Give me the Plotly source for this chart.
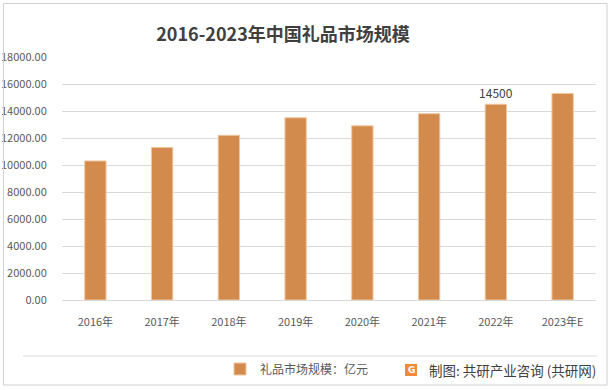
import plotly.graph_objects as go

categories = ["2016年", "2017年", "2018年", "2019年", "2020年", "2021年", "2022年", "2023年E"]
values = [10300, 11300, 12200, 13500, 12900, 13800, 14500, 15300]
label_text = ["", "", "", "", "", "", "14500", ""]
tick_vals = [0, 2000, 4000, 6000, 8000, 10000, 12000, 14000, 16000, 18000]
tick_text = ["%.2f" % v for v in tick_vals]

W, H = 613, 390
L, R, T, B = 62, 17, 57, 90
PW, PH = W - L - R, H - T - B

def px(x):
    return (x - L) / PW

def py(y):
    return (H - B - y) / PH

FONT = "Noto Sans CJK SC"
GRAY = "#595959"

fig = go.Figure()
fig.add_trace(go.Bar(
    x=categories, y=values, name="礼品市场规模：亿元",
    marker=dict(color="#D38B4D", line=dict(color="#F2C79F", width=1)),
    text=label_text, textposition="outside", cliponaxis=False, constraintext="none",
    textfont=dict(family=FONT, size=12, color="#404040"),
))

fig.update_layout(
    width=W, height=H,
    margin=dict(l=L, r=R, t=T, b=B, autoexpand=False),
    paper_bgcolor="white", plot_bgcolor="white",
    bargap=0.68,
    title=dict(text="<b>2016-2023年中国礼品市场规模</b>", x=px(283), xref="paper", xanchor="center",
               y=1 - 35 / H, yanchor="middle",
               font=dict(family=FONT, size=18, color="#404040")),
    font=dict(family=FONT, color=GRAY),
    showlegend=True,
    legend=dict(orientation="h", x=px(220), xanchor="left", y=py(369), yanchor="middle",
                font=dict(family=FONT, size=12, color=GRAY), bgcolor="rgba(0,0,0,0)",
                itemwidth=30),
    xaxis=dict(showgrid=False, showline=False, zeroline=False,
               ticks="outside", ticklen=12, tickcolor="rgba(0,0,0,0)",
               tickfont=dict(family=FONT, size=11, color=GRAY)),
    yaxis=dict(range=[0, 18000], tickvals=tick_vals, ticktext=tick_text,
               showgrid=True, gridcolor="#D9D9D9", gridwidth=1,
               zeroline=True, zerolinecolor="#D9D9D9", zerolinewidth=1,
               showline=False, ticks="outside", ticklen=12, tickcolor="rgba(0,0,0,0)",
               tickfont=dict(family=FONT, size=11, color=GRAY)),
)

shapes = [
    dict(type="rect", xref="paper", yref="paper", x0=px(3.5), x1=px(607), y0=py(385), y1=py(3.5),
         line=dict(color="#D0D0D0", width=1), fillcolor="rgba(0,0,0,0)", layer="above"),
    dict(type="line", xref="paper", yref="paper", x0=px(23), x1=px(597), y0=py(356), y1=py(356),
         line=dict(color="#DDDDDD", width=1), layer="above"),
    dict(type="rect", xref="paper", yref="paper", x0=px(405), x1=px(417), y0=py(376), y1=py(364),
         line=dict(width=0), fillcolor="#F28A3A", layer="above"),
]
fig.update_layout(shapes=shapes)

fig.add_annotation(text="<b>G</b>", xref="paper", yref="paper", x=px(411), y=py(370),
                   showarrow=False, font=dict(family="DejaVu Sans", size=9, color="white"),
                   xanchor="center", yanchor="middle")
fig.add_annotation(text="制图: 共研产业咨询 (共研网)", xref="paper", yref="paper",
                   x=px(598), y=py(370), xanchor="right", yanchor="middle", showarrow=False,
                   font=dict(family=FONT, size=13.5, color="#404040"))

fig.write_html("out.html", config={"displayModeBar": False},
               post_script="document.body.style.margin='0';document.body.style.overflow='hidden';")
